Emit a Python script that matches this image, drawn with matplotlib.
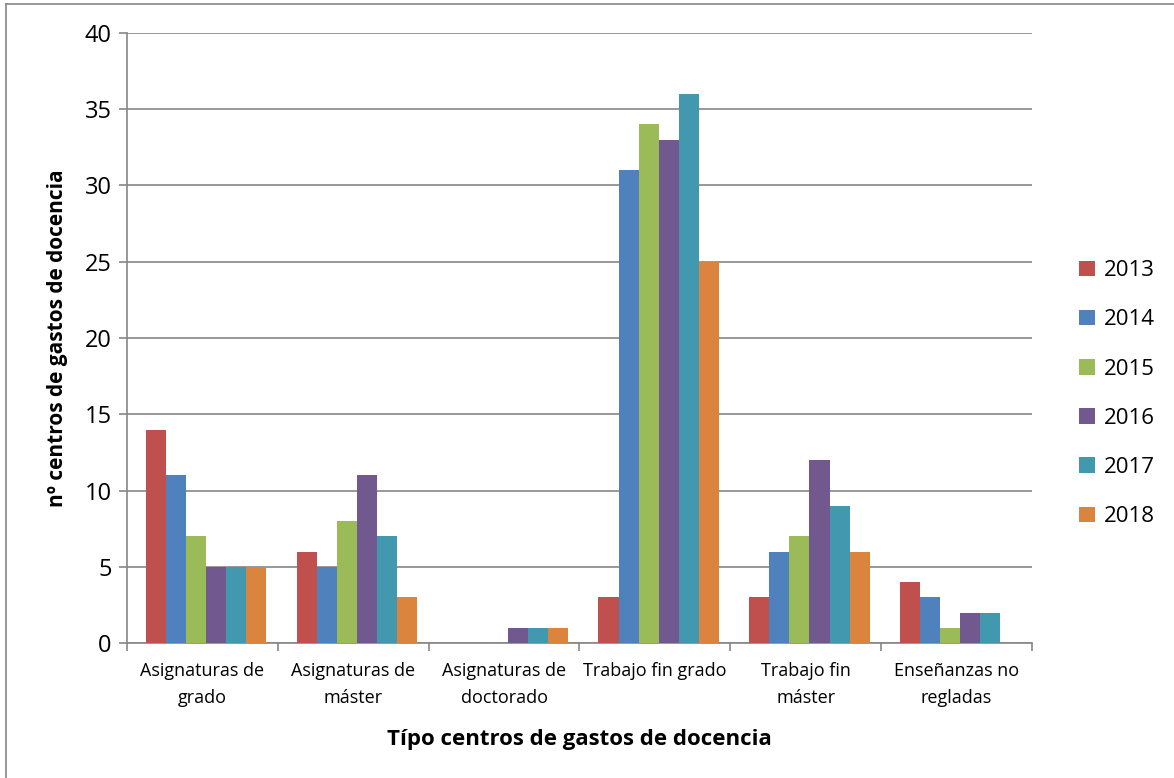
import numpy as np
import matplotlib
matplotlib.use("Agg")
import matplotlib.pyplot as plt
from matplotlib.lines import Line2D

plt.rcParams['font.family'] = ['Open Sans', 'DejaVu Sans']

categories = ["Asignaturas de\ngrado", "Asignaturas de\nmáster", "Asignaturas de\ndoctorado",
              "Trabajo fin grado", "Trabajo fin\nmáster", "Enseñanzas no\nregladas"]
years = ["2013", "2014", "2015", "2016", "2017", "2018"]
v2013 = [14, 6, 0, 3, 3, 4]
v2014 = [11, 5, 0, 31, 6, 3]
v2015 = [7, 8, 0, 34, 7, 1]
v2016 = [5, 11, 1, 33, 12, 2]
v2017 = [5, 7, 1, 36, 9, 2]
v2018 = [5, 3, 1, 25, 6, 0]
series = [v2013, v2014, v2015, v2016, v2017, v2018]
colors = ["#C0504D", "#4F81BD", "#9BBB59", "#71588F", "#4198AF", "#DB843D"]

fig = plt.figure(figsize=(11.74, 7.78), dpi=100)
ax = fig.add_axes([0.1082, 0.1735, 0.879 - 0.1082, 0.9576 - 0.1735])

x = np.arange(len(categories))
w = 0.133
for i, (vals, c) in enumerate(zip(series, colors)):
    ax.bar(x + 0.025 + (i - 2.5) * w, vals, width=w, color=c, label=years[i], linewidth=0, zorder=3)

ax.set_xlim(-0.5, len(categories) - 0.5)
ax.set_ylim(0, 40)
ax.set_yticks(range(0, 41, 5))
ax.grid(axis="y", color="#868686", linewidth=1.2, zorder=0)
for s in ["top", "right"]:
    ax.spines[s].set_visible(False)
for s in ["left", "bottom"]:
    ax.spines[s].set_color("#868686")
    ax.spines[s].set_linewidth(1.2)

ax.set_xticks(np.arange(-0.5, len(categories), 1.0))
ax.set_xticklabels([])
ax.set_xticks(x, minor=True)
ax.set_xticklabels(categories, minor=True, fontsize=13, linespacing=1.6)
ax.tick_params(axis="x", which="major", length=6, width=1.2, color="#868686")
ax.tick_params(axis="x", which="minor", length=0, pad=14)
ax.tick_params(axis="y", length=6, width=1.2, color="#868686", labelsize=17, pad=5)

ax.set_ylabel("nº centros de gastos de docencia", fontsize=15, fontweight="bold", labelpad=12)
ax.set_xlabel("Típo centros de gastos de docencia", fontsize=16, fontweight="bold", labelpad=16)

ax.legend(loc="center left", bbox_to_anchor=(1068 / 1174, 0.494), bbox_transform=fig.transFigure,
          frameon=False, fontsize=16, labelspacing=1.27, handlelength=0.7, handleheight=0.7,
          handletextpad=0.4, borderpad=0)

# outer chart frame (left and top edges visible)
fig.add_artist(Line2D([6 / 1174, 6 / 1174], [0, 1 - 4 / 778], transform=fig.transFigure,
                      color="#868686", linewidth=1.2))
fig.add_artist(Line2D([6 / 1174, 1], [1 - 4 / 778, 1 - 4 / 778], transform=fig.transFigure,
                      color="#868686", linewidth=1.2))

fig.savefig("out.png", dpi=100)
